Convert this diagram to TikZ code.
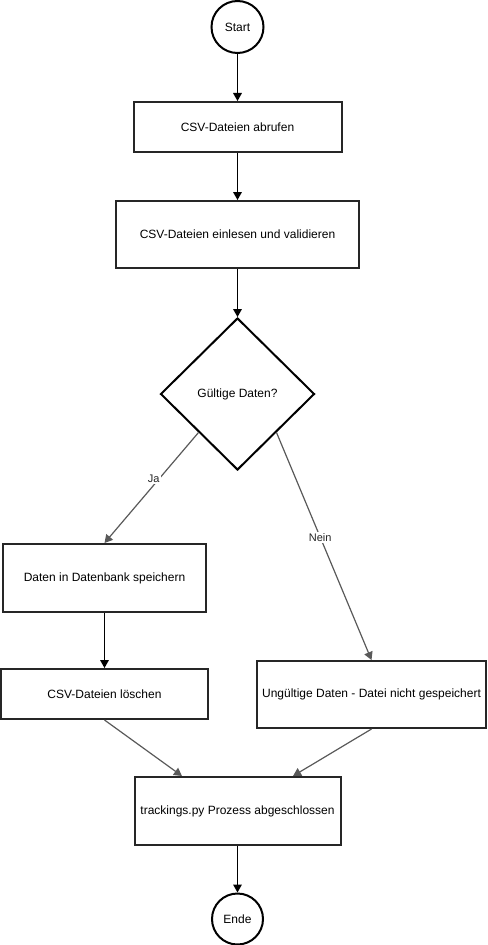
\documentclass[tikz,border=0pt]{standalone}
\usepackage{fontspec}
\setmainfont{Liberation Sans}
\usetikzlibrary{shapes.geometric,arrows.meta,calc}
\begin{document}
\begin{tikzpicture}[x=0.75pt,y=-0.75pt,
  every node/.style={font=\fontsize{9pt}{11pt}\selectfont},
  box/.style={draw=black!85,line width=1.5pt,rectangle,inner sep=2pt,fill=white},
  term/.style={draw=black,line width=1.5pt,circle,inner sep=0pt,fill=white},
  dec/.style={draw=black,line width=1.5pt,diamond,inner sep=0pt,fill=white},
  arr/.style={draw=black,line width=0.9pt,-{Triangle[length=6pt,width=6.5pt]}},
  garr/.style={draw=black!65,line width=0.9pt,-{Triangle[length=6pt,width=6.5pt]}},
  lbl/.style={fill=white,inner sep=1pt,font=\fontsize{8.25pt}{10pt}\selectfont,text=black!85}
]
\useasboundingbox (0,0) rectangle (487,945);
\node[term,minimum size=39pt] (start) at (237.5,27) {Start};
\node[box,minimum width=156pt,minimum height=37.5pt] (b1) at (237.5,127) {CSV-Dateien abrufen};
\node[box,minimum width=182.25pt,minimum height=50.25pt] (b2) at (237.5,234.5) {CSV-Dateien einlesen und validieren};
\node[dec,minimum width=115.5pt,minimum height=114pt] (d) at (237.5,394) {Gültige Daten?};
\node[box,minimum width=152.25pt,minimum height=51pt] (b3) at (104.5,578) {Daten in Datenbank speichern};
\node[box,minimum width=155.25pt,minimum height=37.5pt] (b4) at (104.5,694) {CSV-Dateien löschen};
\node[box,minimum width=171.75pt,minimum height=50.25pt,inner sep=1pt] (b5) at (371.5,694.5) {Ungültige Daten - Datei nicht gespeichert};
\node[box,minimum width=154.5pt,minimum height=51pt] (b6) at (237.5,811) {trackings.py Prozess abgeschlossen};
\node[term,minimum size=38.25pt] (ende) at (237.5,919) {Ende};

\coordinate (t1) at ($(b6.north west)!0.233!(b6.north east)$);
\coordinate (t2) at ($(b6.north west)!0.767!(b6.north east)$);

\draw[arr] (start.south) -- (b1.north);
\draw[arr] (b1.south) -- (b2.north);
\draw[arr] (b2.south) -- (d.north);
\draw[garr] (d.south west) -- node[lbl,pos=0.42,xshift=-4pt] {Ja} (b3.north);
\draw[garr] (d.south east) -- node[lbl,pos=0.46] {Nein} (b5.north);
\draw[arr] (b3.south) -- (b4.north);
\draw[garr] (b4.south) -- (t1);
\draw[garr] (b5.south) -- (t2);
\draw[arr] (b6.south) -- (ende.north);
\end{tikzpicture}
\end{document}
